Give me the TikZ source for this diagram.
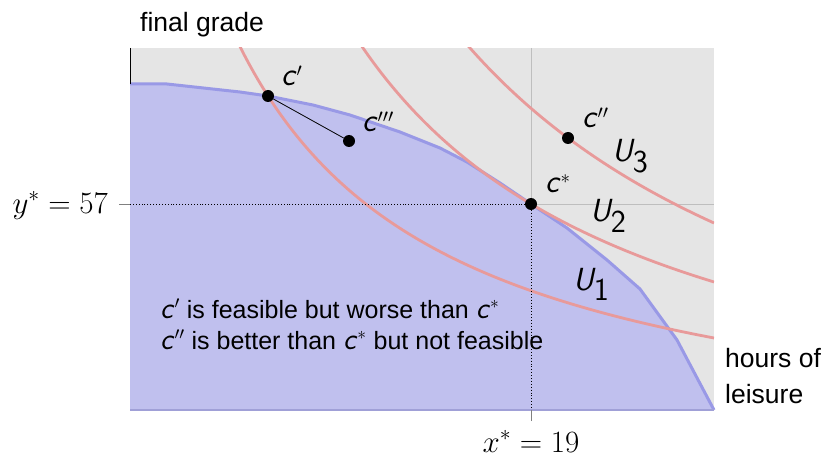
\RequirePackage{fix-cm}
\documentclass[tikz,border=0pt]{standalone}
\usepackage{graphicx}
\usepackage{fontspec}
\setmainfont{Liberation Sans}
\definecolor{bggray}{RGB}{229,229,229}
\definecolor{feasfill}{RGB}{192,192,238}
\definecolor{feasline}{RGB}{153,153,230}
\definecolor{xaxcol}{RGB}{160,160,215}
\definecolor{indiff}{RGB}{232,154,154}
\definecolor{gridgray}{RGB}{190,190,190}
\newcommand{\cv}{\scalebox{1.22}{\textsf{\itshape c}}}
\newcommand{\Uv}{\textsf{\itshape U}}
\tikzset{
  dot/.style={circle,fill=black,inner sep=0pt,minimum size=12pt},
  indiffcurve/.style={indiff,line width=2.8pt},
  lbl/.style={inner sep=0pt,font=\fontsize{27}{32}\selectfont},
  ulbl/.style={inner sep=0pt,font=\fontsize{32}{36}\selectfont},
  txt/.style={inner sep=0pt,font=\fontsize{26.5}{30}\selectfont},
  note/.style={inner sep=0pt,font=\fontsize{25}{28}\selectfont},
  ticklbl/.style={inner sep=0pt,font=\fontsize{31}{36}\selectfont},
}
\begin{document}
\begin{tikzpicture}[x=1pt,y=-1pt]
\useasboundingbox (0,0) rectangle (824,457);
% background
\fill[bggray] (130,48) rectangle (714,410);
\draw[gridgray,line width=0.8pt] (531,48) -- (531,410);
\draw[gridgray,line width=0.8pt] (130,204) -- (714,204);
% feasible set
\fill[feasfill] (130,410) -- (130,84) -- (167,84) -- (240,92) -- (268,96) -- (313,105) -- (350,115) -- (400,132) -- (440,148) -- (467,162) -- (500,183) -- (531,204) -- (567,228) -- (607,260) -- (640,289) -- (677,340) -- (714,410) -- cycle;
\draw[feasline,line width=3pt,line join=round] (130,84) -- (167,84) -- (240,92) -- (268,96) -- (313,105) -- (350,115) -- (400,132) -- (440,148) -- (467,162) -- (500,183) -- (531,204) -- (567,228) -- (607,260) -- (640,289) -- (677,340) -- (714,410);
\draw[xaxcol,line width=2pt] (130,410) -- (714,410);
\draw[black,line width=1pt] (130,48) -- (130,84);
% indifference curves
\begin{scope}
\clip (130,48) rectangle (714,410);
\draw[indiffcurve] plot[domain=236:714,samples=160] (\x,{467.5-886.8/((\x-29.3)/100)});
\draw[indiffcurve] plot[domain=357:714,samples=160] (\x,{480.5-1288.08/((\x-65.2)/100)});
\draw[indiffcurve] plot[domain=464:714,samples=160] (\x,{526.1-2020.47/((\x-47.4)/100)});
\end{scope}
% points
\node[dot] (cp) at (268,96) {};
\node[dot] (cppp) at (349,141) {};
\node[dot] (cstar) at (531,204) {};
\node[dot] (cpp) at (568,138) {};
\coordinate (yax) at (130,204);
\coordinate (xax) at (531,410);
\coordinate (ytick) at (119,204);
\coordinate (xtick) at (531,421);
\draw[black,line width=0.8pt] (cp) -- (cppp);
\draw[black,dotted,line width=0.9pt] (cstar.center) -- (yax);
\draw[black,dotted,line width=0.9pt] (cstar.center) -- (xax);
\draw[gray,line width=0.8pt] (ytick) -- (yax);
\draw[gray,line width=0.8pt] (xtick) -- (xax);
% labels
\node[lbl,anchor=base west] (lcp) at (281,86) {$\cv'$};
\node[lbl,anchor=base west] (lcppp) at (362,132) {$\cv'''$};
\node[lbl,anchor=base west] (lcpp) at (582,128) {$\cv''$};
\node[lbl,anchor=base west] (lcs) at (545,193) {$\cv^*$};
\node[ulbl,anchor=base west] (u3) at (612,162) {$\Uv_{\textsf{3}}$};
\node[ulbl,anchor=base west] (u2) at (590,222) {$\Uv_{\textsf{2}}$};
\node[ulbl,anchor=base west] (u1) at (573,290) {$\Uv_{\textsf{1}}$};
\node[txt,anchor=base west] (yl) at (140,32) {final grade};
\node[txt,anchor=base west] (xl1) at (725,367) {hours of};
\node[txt,anchor=base west] (xl2) at (725,403) {leisure};
\node[note,anchor=base west] (t1) at (160,318) {$\cv'$ is feasible but worse than $\cv^*$};
\node[note,anchor=base west] (t2) at (160,349) {$\cv''$ is better than $\cv^*$ but not feasible};
\node[ticklbl,anchor=base east] (ys) at (108,213) {$y^*=57$};
\node[ticklbl,anchor=base] (xs) at (531,452) {$x^*=19$};
\end{tikzpicture}
\end{document}
